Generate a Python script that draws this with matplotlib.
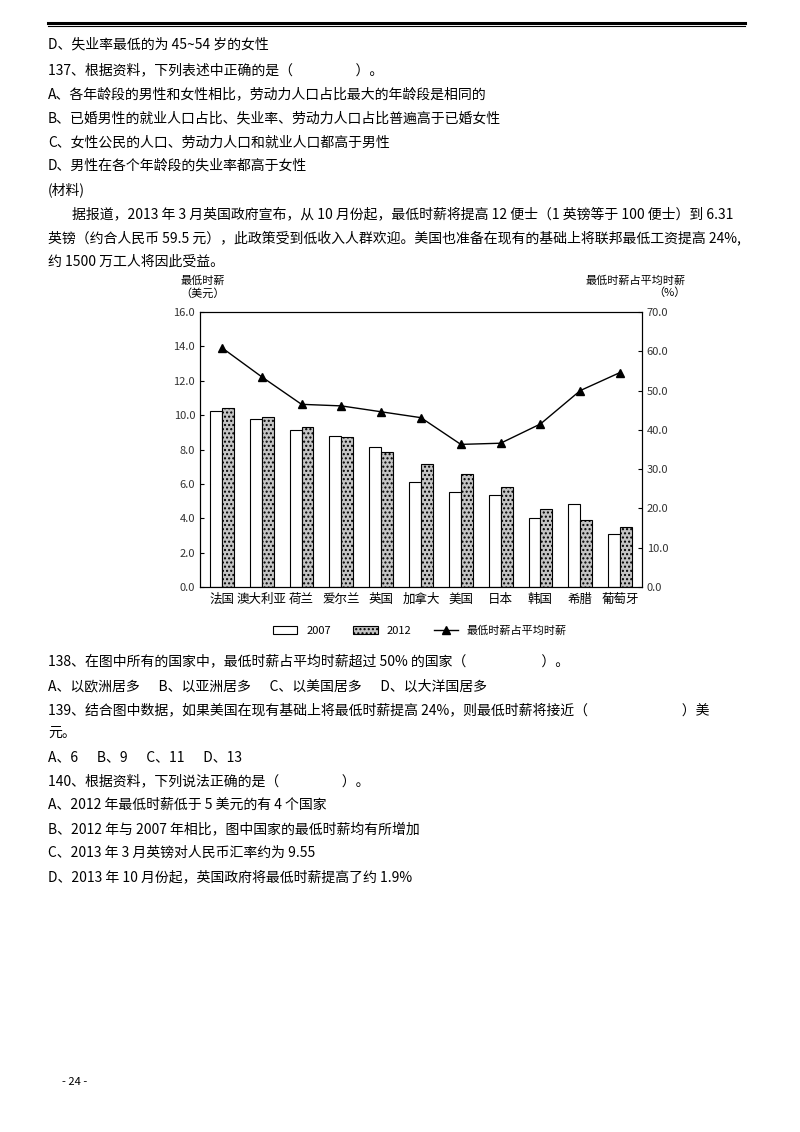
import matplotlib
matplotlib.use("Agg")
import matplotlib.pyplot as plt
import numpy as np
from matplotlib.lines import Line2D

plt.rcParams['font.family'] = ['Noto Sans CJK SC', 'DejaVu Sans']

countries = ["法国", "澳大利亚", "荷兰", "爱尔兰", "英国", "加拿大", "美国", "日本", "韩国", "希腊", "葡萄牙"]
wage2007 = [10.25, 9.8, 9.15, 8.8, 8.15, 6.1, 5.55, 5.35, 4.0, 4.85, 3.1]
wage2012 = [10.4, 9.9, 9.3, 8.7, 7.85, 7.15, 6.6, 5.8, 4.55, 3.9, 3.5]
ratio = [60.9, 53.5, 46.5, 46.1, 44.6, 43.1, 36.3, 36.6, 41.5, 50.0, 54.6]

fig = plt.figure(figsize=(8, 11.32), dpi=100)
W, H = 800, 1132

def t(x, y, s, **kw):
    fig.text(x / W, 1 - y / H, s, fontsize=10, va='center', **kw)

fig.add_artist(Line2D([48/W, 745/W], [1-22.5/H]*2, color='black', lw=2.2))
fig.add_artist(Line2D([48/W, 745/W], [1-26/H]*2, color='black', lw=0.8))

top_lines = [
    (48, 45, "D、失业率最低的为 45~54 岁的女性"),
    (48, 70, "137、根据资料，下列表述中正确的是（                    ）。"),
    (48, 94, "A、各年龄段的男性和女性相比，劳动力人口占比最大的年龄段是相同的"),
    (48, 119, "B、已婚男性的就业人口占比、失业率、劳动力人口占比普遍高于已婚女性"),
    (48, 143, "C、女性公民的人口、劳动力人口和就业人口都高于男性"),
    (48, 166, "D、男性在各个年龄段的失业率都高于女性"),
    (48, 190, "(材料)"),
    (72, 214, "据报道，2013 年 3 月英国政府宣布，从 10 月份起，最低时薪将提高 12 便士（1 英镑等于 100 便士）到 6.31"),
    (48, 238, "英镑（约合人民币 59.5 元），此政策受到低收入人群欢迎。美国也准备在现有的基础上将联邦最低工资提高 24%,"),
    (48, 262, "约 1500 万工人将因此受益。"),
]
bottom_lines = [
    (48, 661, "138、在图中所有的国家中，最低时薪占平均时薪超过 50% 的国家（                        ）。"),
    (48, 686, "A、以欧洲居多      B、以亚洲居多      C、以美国居多      D、以大洋国居多"),
    (48, 710, "139、结合图中数据，如果美国在现有基础上将最低时薪提高 24%，则最低时薪将接近（                              ）美"),
    (48, 733, "元。"),
    (48, 757, "A、6      B、9      C、11      D、13"),
    (48, 781, "140、根据资料，下列说法正确的是（                    ）。"),
    (48, 805, "A、2012 年最低时薪低于 5 美元的有 4 个国家"),
    (48, 829, "B、2012 年与 2007 年相比，图中国家的最低时薪均有所增加"),
    (48, 853, "C、2013 年 3 月英镑对人民币汇率约为 9.55"),
    (48, 877, "D、2013 年 10 月份起，英国政府将最低时薪提高了约 1.9%"),
]
for x, y, s in top_lines + bottom_lines:
    t(x, y, s)
t(62, 1082, "- 24 -", fontsize=8) if False else fig.text(62/W, 1-1082/H, "- 24 -", fontsize=8, va='center')

ax = fig.add_axes([200/W, 1-587/H, 442/W, 275/H])
x = np.arange(len(countries))
w = 0.3
b1 = ax.bar(x - w/2, wage2007, w, facecolor='white', edgecolor='black', lw=0.8, label='2007')
b2 = ax.bar(x + w/2, wage2012, w, facecolor='#c4c4c4', edgecolor='black', lw=0.8, hatch='....', label='2012')
ax.set_xlim(-0.55, len(countries) - 0.45)
ax.set_ylim(0, 16)
ax.set_yticks(np.arange(0, 16.1, 2))
ax.set_yticklabels([f"{v:.1f}" for v in np.arange(0, 16.1, 2)], fontsize=8, color='#333')
ax.set_xticks(x)
ax.set_xticklabels(countries, fontsize=9)
ax.tick_params(axis='x', length=0, pad=4)
ax.tick_params(axis='y', direction='in', length=3)
ax2 = ax.twinx()
l, = ax2.plot(x, ratio, color='black', lw=1, marker='^', ms=6, label='最低时薪占平均时薪')
ax2.set_ylim(0, 70)
ax2.set_yticks(np.arange(0, 70.1, 10))
ax2.set_yticklabels([f"{v:.1f}" for v in np.arange(0, 70.1, 10)], fontsize=8, color='#333')
ax2.tick_params(axis='y', direction='in', length=3)

fig.text(203/W, 1-287/H, "最低时薪\n（美元）", fontsize=8, ha='center', va='center', linespacing=1.2)
fig.text(686/W, 1-287/H, "最低时薪占平均时薪\n（%）", fontsize=8, ha='right', va='center', linespacing=1.2)

fig.legend(handles=[b1, b2, l], labels=['2007', '2012', '最低时薪占平均时薪'],
           loc='center', bbox_to_anchor=(420/W, 1-631/H), ncol=3, frameon=False,
           fontsize=8, handlelength=2.2, columnspacing=2)

fig.savefig("out.png", dpi=100)
